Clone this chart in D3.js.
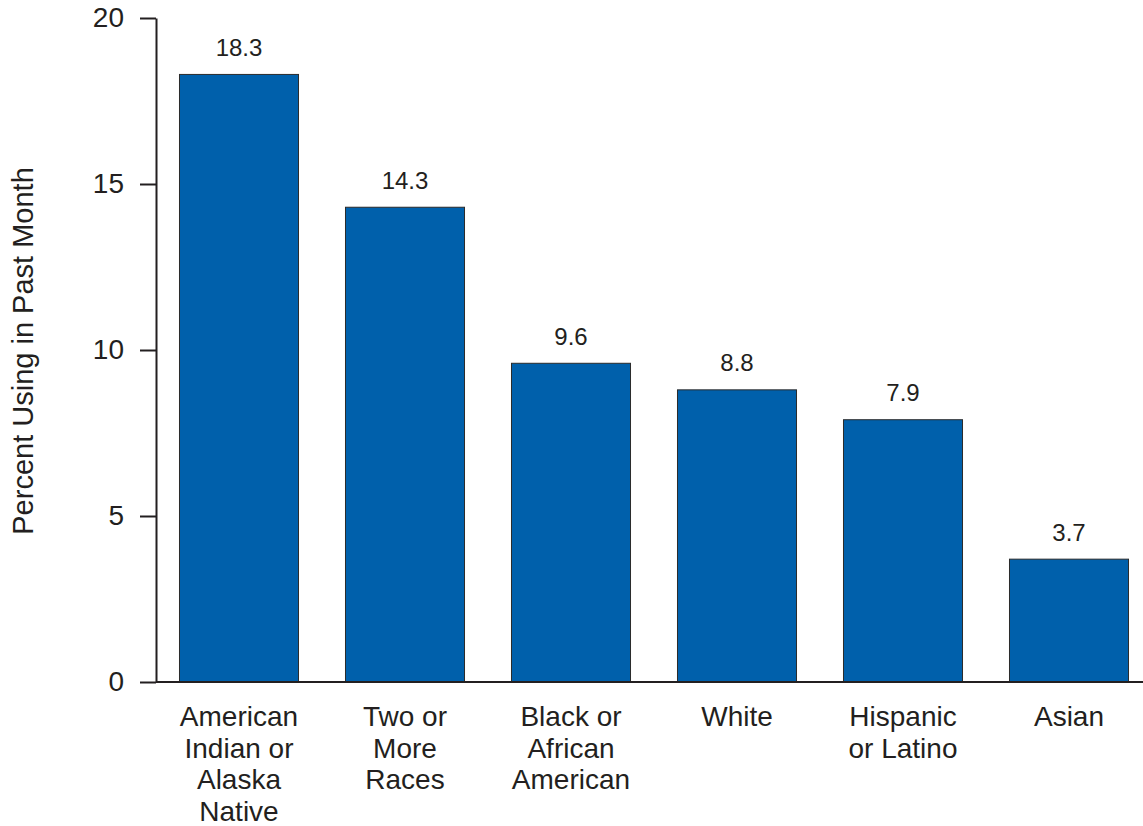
<!DOCTYPE html>
<html>
<head>
<meta charset="utf-8">
<script src="https://cdn.jsdelivr.net/npm/d3@7"></script>
<style>
body { margin: 0; background: #fff; }
text { font-family: "Liberation Sans", Arial, sans-serif; fill: #231f20; }
</style>
</head>
<body>
<svg id="chart" width="1143" height="826"></svg>
<script>
const categories = [
  ["American", "Indian or", "Alaska", "Native"],
  ["Two or", "More", "Races"],
  ["Black or", "African", "American"],
  ["White"],
  ["Hispanic", "or Latino"],
  ["Asian"]
];
const values = [18.3, 14.3, 9.6, 8.8, 7.9, 3.7];
const yTicks = [0, 5, 10, 15, 20];
const yTitle = "Percent Using in Past Month";

const svg = d3.select("#chart");
const ids = categories.map((c, i) => i);

const x = d3.scaleBand().domain(ids).range([156, 1152]).paddingInner(0.283).paddingOuter(0.1415);
const y = d3.scaleLinear().domain([0, 20]).range([682, 18]);

// bars
svg.selectAll("rect.bar").data(values).enter().append("rect")
  .attr("class", "bar")
  .attr("x", (d, i) => x(i))
  .attr("y", d => y(d))
  .attr("width", x.bandwidth())
  .attr("height", d => y(0) - y(d))
  .attr("fill", "#0060ab")
  .attr("stroke", "#2b2b2b")
  .attr("stroke-width", 1);

// value labels
svg.selectAll("text.val").data(values).enter().append("text")
  .attr("class", "val")
  .attr("x", (d, i) => x(i) + x.bandwidth() / 2)
  .attr("y", d => y(d) - 18.5)
  .attr("text-anchor", "middle")
  .attr("font-size", 24)
  .text(d => d.toFixed(1));

// y axis
const yAxis = d3.axisLeft(y).tickValues(yTicks).tickSize(16).tickPadding(16).tickSizeOuter(0);
const yg = svg.append("g").attr("transform", "translate(156,0)").call(yAxis);
yg.select(".domain").attr("stroke", "#231f20").attr("stroke-width", 2);
yg.selectAll(".tick line").attr("stroke", "#231f20").attr("stroke-width", 2);
yg.selectAll(".tick text").attr("font-size", 28).attr("fill", "#231f20")
  .attr("font-family", "Liberation Sans, Arial, sans-serif");

// x axis line
svg.append("line").attr("x1", 156).attr("x2", 1143).attr("y1", y(0)).attr("y2", y(0))
  .attr("stroke", "#231f20").attr("stroke-width", 2);

// category labels
const cl = svg.selectAll("text.cat").data(categories).enter().append("text")
  .attr("class", "cat")
  .attr("text-anchor", "middle")
  .attr("font-size", 28)
  .attr("x", (d, i) => x(i) + x.bandwidth() / 2)
  .attr("y", 726);
cl.selectAll("tspan").data(d => d).enter().append("tspan")
  .attr("x", function() { return d3.select(this.parentNode).attr("x"); })
  .attr("dy", (d, i) => i === 0 ? 0 : 31.5)
  .text(d => d);

// y title
svg.append("text")
  .attr("transform", "translate(33,351) rotate(-90)")
  .attr("text-anchor", "middle")
  .attr("font-size", 29)
  .text(yTitle);
</script>
</body>
</html>
